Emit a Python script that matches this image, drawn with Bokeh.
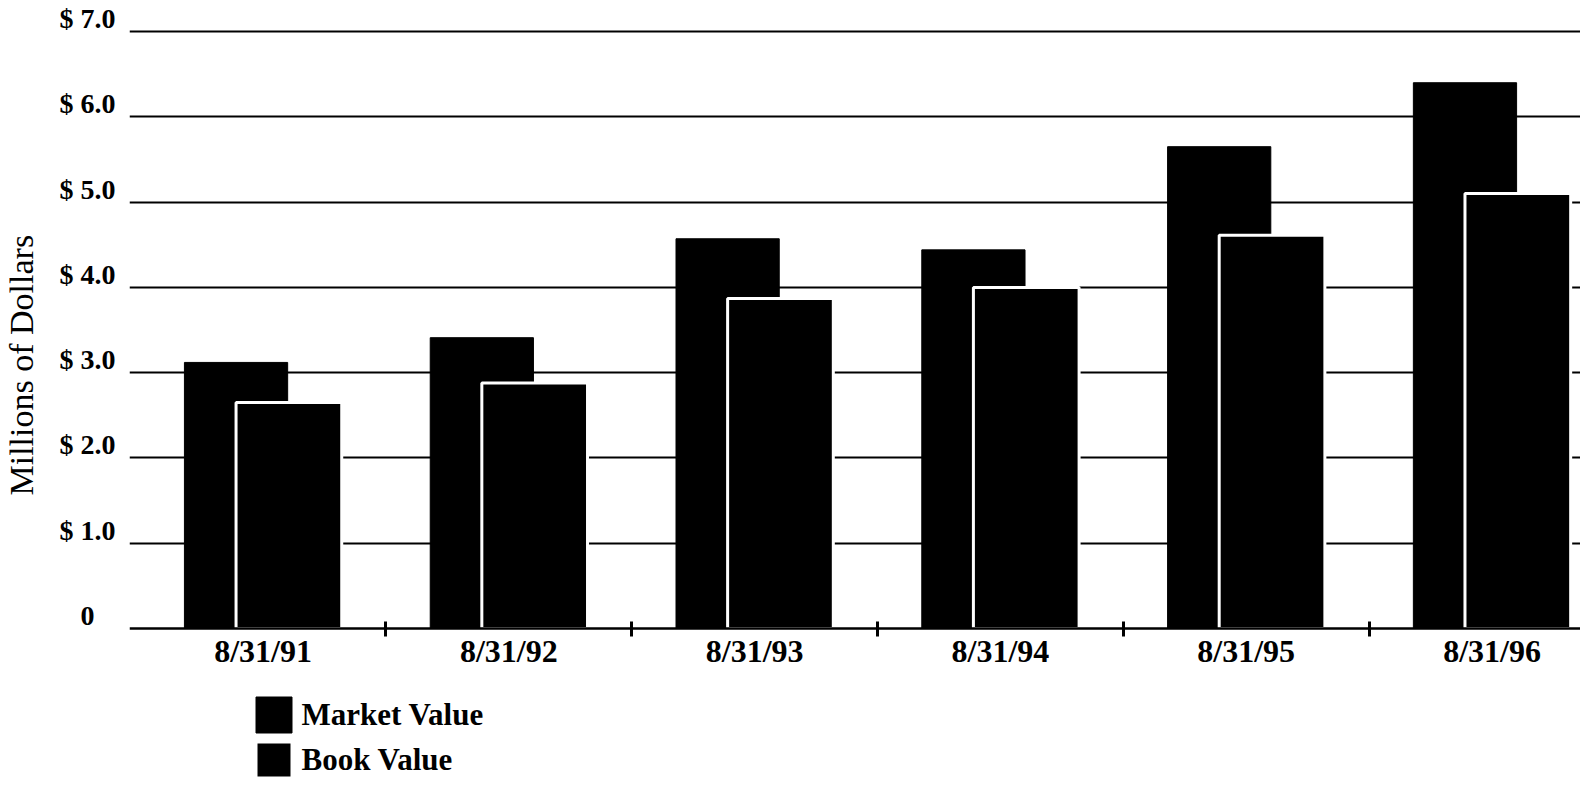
from bokeh.plotting import figure
from bokeh.models import FixedTicker, Range1d, Legend, LegendItem, Title
from bokeh.embed import file_html
from bokeh.resources import INLINE

# ---- data ----
dates = ["8/31/91", "8/31/92", "8/31/93", "8/31/94", "8/31/95", "8/31/96"]
market_value = [3.12, 3.41, 4.57, 4.44, 5.65, 6.40]
book_value = [2.65, 2.88, 3.87, 4.00, 4.61, 5.10]
y_ticks = [0, 1, 2, 3, 4, 5, 6, 7]
y_tick_labels = ["0", "$ 1.0", "$ 2.0", "$ 3.0", "$ 4.0", "$ 5.0", "$ 6.0", "$ 7.0"]
boundaries = [0.5, 1.5, 2.5, 3.5, 4.5, 5.4]

# ---- style constants ----
FONT = "Liberation Serif"
MKT_OFF, MKT_W = -0.11, 0.42
BOOK_OFF, BOOK_W = 0.105, 0.43
LABEL_SHIFT = 0.152  # puts y labels just above their gridlines
NB = "\u00a0"
W, H = 1580, 778

xs = list(range(len(dates)))
mkt_x = [x + MKT_OFF for x in xs]
book_x = [x + BOOK_OFF for x in xs]

# frame runs from the top gridline area down to the bottom edge; the value axis
# sits at y = 0 and the space below it holds the date labels and the legend
p = figure(width=W, height=H,
           x_range=Range1d(-0.5435, 5.36), y_range=Range1d(-1.759, 7.2),
           output_backend="svg", toolbar_location=None,
           min_border_left=129, min_border_right=0,
           min_border_top=14, min_border_bottom=0)
p.outline_line_color = None
p.background_fill_color = "white"

r_mkt = p.vbar(x=mkt_x, top=market_value, width=MKT_W, bottom=0,
               fill_color="black", line_color="black", line_width=1)
r_book = p.vbar(x=book_x, top=book_value, width=BOOK_W, bottom=0,
                fill_color="black", line_color="white", line_width=3)

# grid
p.xgrid.grid_line_color = None
p.ygrid.ticker = FixedTicker(ticks=[t for t in y_ticks if t > 0])
p.ygrid.grid_line_color = "black"
p.ygrid.grid_line_width = 2

# x axis, pinned at zero
xa = p.xaxis[0]
xa.fixed_location = 0
xa.ticker = FixedTicker(ticks=xs, minor_ticks=boundaries)
xa.major_label_overrides = {x: d for x, d in zip(xs, dates)}
xa.major_tick_line_color = None
xa.major_tick_in = 0
xa.major_tick_out = 0
xa.minor_tick_line_color = "black"
xa.minor_tick_line_width = 3
xa.minor_tick_in = 7
xa.minor_tick_out = 8
xa.axis_line_color = "black"
xa.axis_line_width = 2.5
xa.major_label_standoff = -3
xa.major_label_text_font = FONT
xa.major_label_text_font_size = "32px"
xa.major_label_text_font_style = "bold"
xa.major_label_text_color = "black"

# y axis
ya = p.yaxis[0]
ypos = [t + LABEL_SHIFT for t in y_ticks]
ya.ticker = FixedTicker(ticks=ypos, minor_ticks=[])
overrides = {}
for pos, lab in zip(ypos, y_tick_labels):
    if lab == "0":
        lab = "0" + NB * 3          # aligns the zero with the units digit
    elif lab == y_tick_labels[-1]:
        lab = NB * 2 + lab          # right-aligned, so padding only widens the axis
    overrides[pos] = lab
ya.major_label_overrides = overrides
ya.axis_line_color = None
ya.major_tick_line_color = None
ya.minor_tick_line_color = None
ya.major_tick_in = 0
ya.major_tick_out = 0
ya.minor_tick_in = 0
ya.minor_tick_out = 0
ya.major_label_standoff = 14
ya.major_label_text_font = FONT
ya.major_label_text_font_size = "28px"
ya.major_label_text_font_style = "bold"
ya.major_label_text_color = "black"

# y axis title
ytitle = Title(text="Millions of Dollars", align="left", vertical_align="top",
               offset=283, text_font=FONT, text_font_size="34px",
               text_font_style="normal", text_color="black", standoff=2)
p.add_layout(ytitle, "left")

# legend, inside the frame below the date labels
legend = Legend(items=[LegendItem(label="Market Value", renderers=[r_mkt]),
                       LegendItem(label="Book Value", renderers=[r_book])],
                location=(121.5, -4), orientation="vertical",
                glyph_width=45, glyph_height=45, spacing=0,
                label_standoff=6, padding=0, margin=0,
                border_line_color=None, background_fill_alpha=0,
                label_text_font=FONT, label_text_font_size="31px",
                label_text_font_style="bold", label_text_color="black")
p.add_layout(legend, "center")

open("out.html", "w").write(file_html(p, INLINE))
